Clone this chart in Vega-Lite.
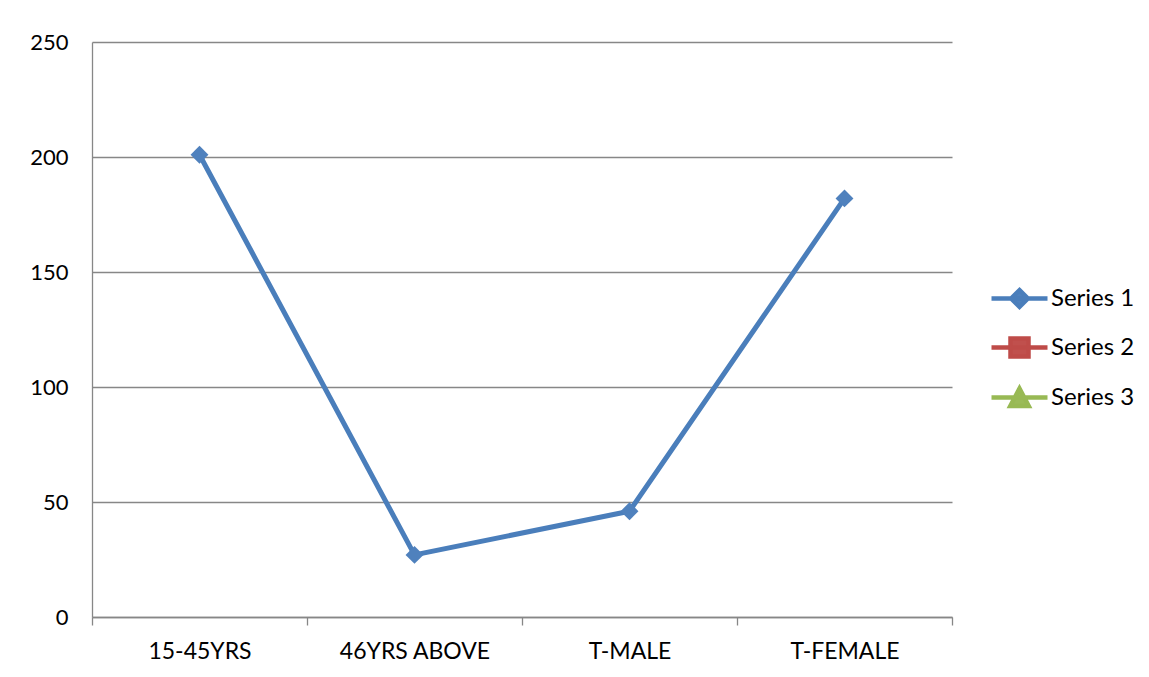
{
  "$schema": "https://vega.github.io/schema/vega-lite/v6.json",
  "width": 860,
  "height": 575,
  "autosize": {"type": "none"},
  "padding": {"left": 92, "top": 42, "right": 197, "bottom": 60},
  "background": "white",
  "config": {"view": {"stroke": null}, "font": "Lato"},
  "data": {
    "values": [
      {"category": "15-45YRS", "series": "Series 1", "value": 201},
      {"category": "46YRS ABOVE", "series": "Series 1", "value": 27},
      {"category": "T-MALE", "series": "Series 1", "value": 46},
      {"category": "T-FEMALE", "series": "Series 1", "value": 182}
    ]
  },
  "layer": [
    {
      "mark": {"type": "line", "strokeWidth": 5, "strokeJoin": "round", "color": "#4A7EBB"},
      "encoding": {
        "x": {
          "field": "category", "type": "nominal", "sort": null, "bandPosition": 0.5,
          "scale": {"type": "band", "paddingInner": 0, "paddingOuter": 0},
          "axis": {
            "title": null, "labelAngle": 0, "tickBand": "extent", "ticks": true, "tickSize": 8,
            "tickColor": "#878787", "tickWidth": 1.3, "domainColor": "#878787", "domainWidth": 1.3,
            "labelFontSize": 23, "labelPadding": 15, "labelColor": "black", "grid": false
          }
        },
        "y": {
          "field": "value", "type": "quantitative",
          "scale": {"domain": [0, 250], "nice": false},
          "axis": {
            "title": null, "values": [0, 50, 100, 150, 200, 250], "grid": true,
            "gridColor": "#878787", "gridWidth": 1.3, "domainColor": "#878787", "domainWidth": 1.3,
            "ticks": false, "labelFontSize": 22, "labelPadding": 24, "labelColor": "black"
          }
        },
        "detail": {"field": "series", "type": "nominal"}
      }
    },
    {
      "mark": {"type": "point", "shape": "diamond", "filled": true, "size": 320, "opacity": 1, "color": "#4F81BD"},
      "encoding": {
        "x": {"field": "category", "type": "nominal", "sort": null, "bandPosition": 0.5},
        "y": {"field": "value", "type": "quantitative"}
      }
    },
    {
      "data": {"values": [{"series": "Series 1"}, {"series": "Series 2"}, {"series": "Series 3"}]},
      "transform": [{"filter": "datum.series == 'none'"}],
      "mark": {"type": "point", "filled": true, "opacity": 1},
      "encoding": {
        "shape": {
          "field": "series", "type": "nominal",
          "scale": {
            "domain": ["Series 1", "Series 2", "Series 3"],
            "range": [
              "M-1.4,0H1.4M0,-0.42L0.42,0L0,0.42L-0.42,0Z",
              "M-1.4,0H1.4M-0.45,-0.45H0.45V0.45H-0.45Z",
              "M-1.4,0H1.4M0,-0.45L0.46,0.42L-0.46,0.42Z"
            ]
          },
          "legend": {
            "orient": "none", "legendX": 905, "legendY": 234, "title": null,
            "symbolSize": 1600, "symbolStrokeWidth": 4.5, "symbolOpacity": 1,
            "labelFontSize": 24, "labelFont": "Lato", "labelColor": "black",
            "labelOffset": 9, "rowPadding": 9, "padding": 0
          }
        },
        "fill": {
          "field": "series", "type": "nominal",
          "scale": {"domain": ["Series 1", "Series 2", "Series 3"], "range": ["#4F81BD", "#C0504D", "#9BBB59"]}
        },
        "stroke": {
          "field": "series", "type": "nominal",
          "scale": {"domain": ["Series 1", "Series 2", "Series 3"], "range": ["#4A7EBB", "#BE4B48", "#98B954"]}
        }
      }
    }
  ]
}
